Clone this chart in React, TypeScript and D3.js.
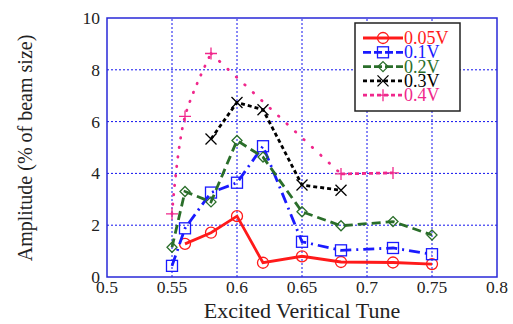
import React from "react";
import * as d3 from "d3";

const xTicks = [0.5, 0.55, 0.6, 0.65, 0.7, 0.75, 0.8];
const yTicks = [0, 2, 4, 6, 8, 10];

const tune005 = [0.56, 0.58, 0.6, 0.62, 0.65, 0.68, 0.72, 0.75];
const amp005 = [1.28, 1.71, 2.35, 0.55, 0.8, 0.58, 0.56, 0.5];
const tune01 = [0.55, 0.56, 0.58, 0.6, 0.62, 0.65, 0.68, 0.72, 0.75];
const amp01 = [0.43, 1.88, 3.26, 3.64, 5.05, 1.36, 1.03, 1.12, 0.88];
const tune02 = [0.55, 0.56, 0.58, 0.6, 0.62, 0.65, 0.68, 0.72, 0.75];
const amp02 = [1.15, 3.3, 2.9, 5.27, 4.63, 2.52, 1.98, 2.14, 1.62];
const tune03 = [0.58, 0.6, 0.62, 0.65, 0.68];
const amp03 = [5.33, 6.74, 6.46, 3.55, 3.35];
const tune04 = [0.55, 0.56, 0.58, 0.68, 0.72];
const amp04 = [2.44, 6.2, 8.63, 3.98, 4.02];

const seriesNames = ["0.05V", "0.1V", "0.2V", "0.3V", "0.4V"];

type Series = {
  name: string;
  xs: number[];
  ys: number[];
  color: string;
  dash: string | undefined;
  legendDash: string | undefined;
  marker: string;
};

const series: Series[] = [
  { name: seriesNames[0], xs: tune005, ys: amp005, color: "#ff1a1a", dash: undefined, legendDash: undefined, marker: "circle" },
  { name: seriesNames[1], xs: tune01, ys: amp01, color: "#1a1aff", dash: "11,5,2,5", legendDash: "8,3", marker: "square" },
  { name: seriesNames[2], xs: tune02, ys: amp02, color: "#2a6e2a", dash: "9,5", legendDash: "8,3", marker: "diamond" },
  { name: seriesNames[3], xs: tune03, ys: amp03, color: "#000000", dash: "4,3", legendDash: "4,3", marker: "x" },
  { name: seriesNames[4], xs: tune04, ys: amp04, color: "#f0288c", dash: "4,3", legendDash: "4,3", marker: "plus" },
];

const W = 513;
const H = 324;
const margin = { left: 107, right: 16, top: 18, bottom: 47 };

function Marker({ type, x, y, color }: { type: string; x: number; y: number; color: string }) {
  const sw = 1.3;
  if (type === "circle") return <circle cx={x} cy={y} r={5.5} fill="none" stroke={color} strokeWidth={sw} />;
  if (type === "square") return <rect x={x - 5.5} y={y - 5.5} width={11} height={11} fill="none" stroke={color} strokeWidth={sw} />;
  if (type === "diamond")
    return <path d={`M${x},${y - 5}L${x + 5},${y}L${x},${y + 5}L${x - 5},${y}Z`} fill="none" stroke={color} strokeWidth={sw} />;
  if (type === "x")
    return <path d={`M${x - 5.5},${y - 5.5}L${x + 5.5},${y + 5.5}M${x - 5.5},${y + 5.5}L${x + 5.5},${y - 5.5}`} stroke={color} strokeWidth={sw} />;
  return <path d={`M${x - 6},${y}L${x + 6},${y}M${x},${y - 6}L${x},${y + 6}`} stroke={color} strokeWidth={sw} />;
}

const FONT = "Liberation Serif, serif";

export default function App() {
  const x = d3.scaleLinear().domain([0.5, 0.8]).range([margin.left, W - margin.right]);
  const y = d3.scaleLinear().domain([0, 10]).range([H - margin.bottom, margin.top]);
  const x0 = x(0.5), x1 = x(0.8), y0 = y(0), y1 = y(10);
  const ts = { fontFamily: FONT };

  const legX = 355, legY = 23, legW = 105, legH = 88;

  const mkLine = (curve: d3.CurveFactory) =>
    d3
      .line<[number, number]>()
      .x((d) => x(d[0]))
      .y((d) => y(d[1]))
      .curve(curve);

  return (
    <svg width={W} height={H} style={{ position: "absolute", left: 0, top: 0 }}>
      <rect width={W} height={H} fill="#fff" />
      {xTicks.slice(1, -1).map((t) => (
        <line key={"gx" + t} x1={x(t)} x2={x(t)} y1={y0} y2={y1} stroke="#1010ee" strokeWidth={1} strokeDasharray="2,2" />
      ))}
      {yTicks.slice(1, -1).map((t) => (
        <line key={"gy" + t} x1={x0} x2={x1} y1={y(t)} y2={y(t)} stroke="#1010ee" strokeWidth={1} strokeDasharray="2,2" />
      ))}
      {series.map((s, si) => {
        const pts = s.xs.map((v, i) => [v, s.ys[i]] as [number, number]);
        let paths: React.ReactNode;
        if (si === 4) {
          // 0.4V: smooth rise to the peak, dotted fall, short-dashed tail
          paths = (
            <g fill="none" stroke={s.color} strokeWidth={2.8}>
              <path d={mkLine(d3.curveCatmullRom.alpha(0.5))(pts.slice(0, 3)) || ""} strokeDasharray="0.5,9" strokeLinecap="round" />
              <path d={mkLine(d3.curveLinear)(pts.slice(2, 4)) || ""} strokeDasharray="0.5,11" strokeLinecap="round" />
              <path d={mkLine(d3.curveLinear)(pts.slice(3)) || ""} strokeDasharray={s.dash} />
            </g>
          );
        } else {
          paths = <path d={mkLine(d3.curveLinear)(pts) || ""} fill="none" stroke={s.color} strokeWidth={2.8} strokeDasharray={s.dash} />;
        }
        return (
          <g key={s.name}>
            {paths}
            {pts.map((p, i) => (
              <Marker key={i} type={s.marker} x={x(p[0])} y={y(p[1])} color={s.color} />
            ))}
          </g>
        );
      })}
      <rect x={x0} y={y1} width={x1 - x0} height={y0 - y1} fill="none" stroke="#2828d8" strokeWidth={1.5} />
      {xTicks.map((t) => (
        <text key={"xt" + t} x={x(t)} y={y0 + 16} textAnchor="middle" fontSize={17.5} fill="#222" style={ts}>
          {String(t)}
        </text>
      ))}
      {yTicks.map((t) => (
        <text key={"yt" + t} x={x0 - 7} y={y(t) + 6} textAnchor="end" fontSize={17.5} fill="#222" style={ts}>
          {String(t)}
        </text>
      ))}
      <text x={302} y={318} textAnchor="middle" fontSize={22} fill="#222" style={ts}>
        Excited Veritical Tune
      </text>
      <text transform={`translate(32,148) rotate(-90)`} textAnchor="middle" fontSize={20} fill="#222" style={ts}>
        Amplitude (% of beam size)
      </text>
      <rect x={legX} y={legY} width={legW} height={legH} fill="#fff" stroke="#222" strokeWidth={1.5} />
      {series.map((s, i) => {
        const ly = legY + 15 + i * 14.3;
        return (
          <g key={"lg" + s.name}>
            <line x1={363} x2={403} y1={ly} y2={ly} stroke={s.color} strokeWidth={2.8} strokeDasharray={s.legendDash} />
            <Marker type={s.marker} x={383} y={ly} color={s.color} />
            <text x={404} y={ly + 6} fontSize={18} fill={s.color} style={ts}>
              {s.name}
            </text>
          </g>
        );
      })}
    </svg>
  );
}
